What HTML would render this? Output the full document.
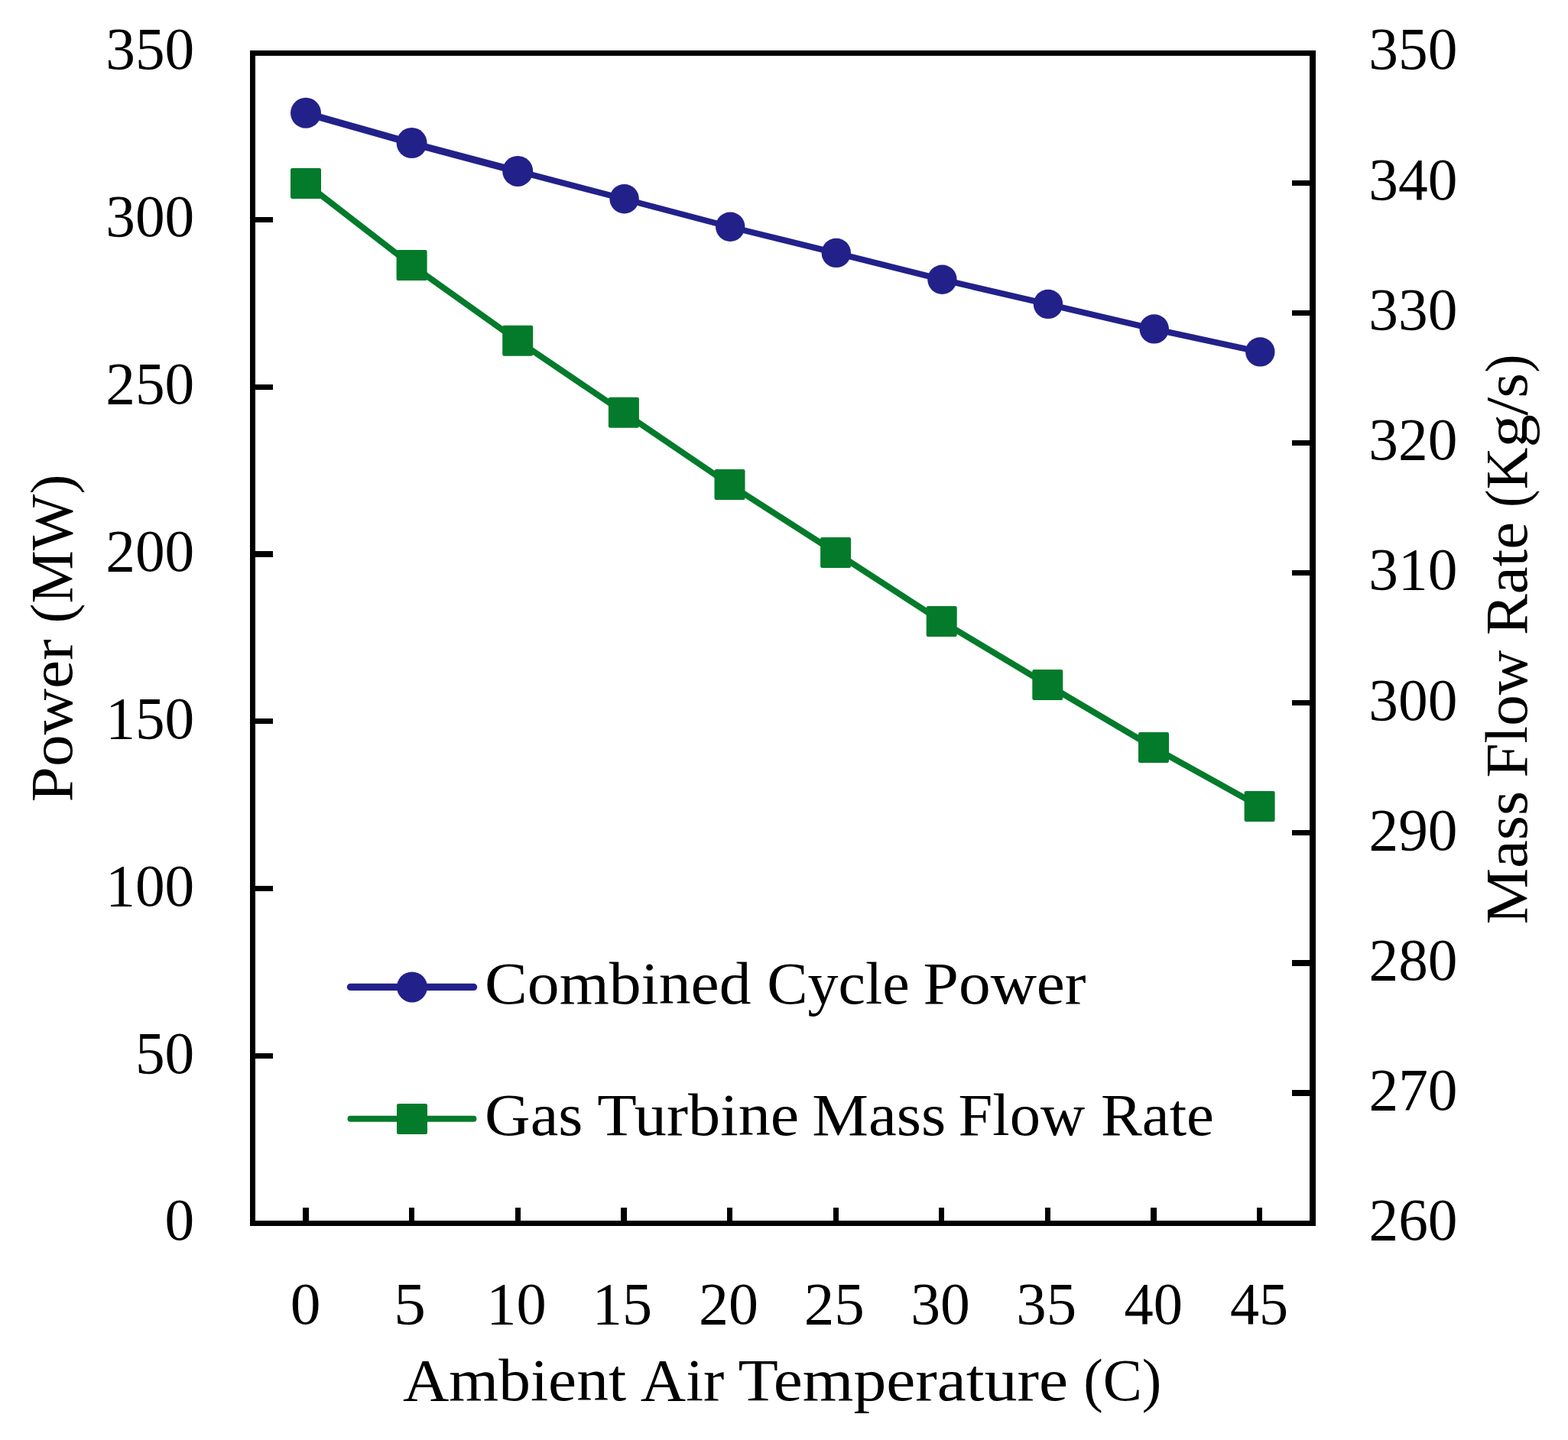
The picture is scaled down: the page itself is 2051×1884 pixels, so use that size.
<!DOCTYPE html>
<html lang="en">
<head>
<meta charset="utf-8">
<title>Combined Cycle Power and Gas Turbine Mass Flow Rate vs Ambient Air Temperature</title>
<style>
html,body{margin:0;padding:0;background:#fff;}
body{width:2051px;height:1884px;}
svg{display:block;}
</style>
</head>
<body>
<svg width="2051" height="1884" viewBox="0 0 2051 1884">
<rect width="2051" height="1884" fill="#fff"/>
<g id="series">
<polyline fill="none" stroke="#037b2b" stroke-width="8" stroke-linejoin="round" points="400.0,239.9 538.6,347.1 677.2,445.8 815.9,539.8 954.5,634.0 1093.1,722.9 1231.7,812.9 1370.3,896.0 1509.0,978.0 1647.6,1054.9"/>
<rect x="380.0" y="219.9" width="40" height="40" rx="2.2" fill="#037b2b"/>
<rect x="518.6" y="327.1" width="40" height="40" rx="2.2" fill="#037b2b"/>
<rect x="657.2" y="425.8" width="40" height="40" rx="2.2" fill="#037b2b"/>
<rect x="795.9" y="519.8" width="40" height="40" rx="2.2" fill="#037b2b"/>
<rect x="934.5" y="614.0" width="40" height="40" rx="2.2" fill="#037b2b"/>
<rect x="1073.1" y="702.9" width="40" height="40" rx="2.2" fill="#037b2b"/>
<rect x="1211.7" y="792.9" width="40" height="40" rx="2.2" fill="#037b2b"/>
<rect x="1350.3" y="876.0" width="40" height="40" rx="2.2" fill="#037b2b"/>
<rect x="1489.0" y="958.0" width="40" height="40" rx="2.2" fill="#037b2b"/>
<rect x="1627.6" y="1034.9" width="40" height="40" rx="2.2" fill="#037b2b"/>
<polyline fill="none" stroke="#22218a" stroke-width="7.9" stroke-linejoin="round" points="677.2,223.9 815.9,260.2 954.5,296.7 1093.1,330.9 1231.7,365.7 1370.3,397.9 1509.0,430.4 1647.6,460.4"/>
<polyline fill="none" stroke="#22218a" stroke-width="9.3" stroke-linejoin="round" points="400.0,148.1 538.6,187.4 677.2,224.2"/>
<circle cx="400.0" cy="147.8" r="20" fill="#22218a"/>
<circle cx="538.6" cy="187.1" r="20" fill="#22218a"/>
<circle cx="677.2" cy="223.9" r="20" fill="#22218a"/>
<circle cx="816.6" cy="260.2" r="19.2" fill="#22218a"/>
<circle cx="955.2" cy="296.7" r="19.2" fill="#22218a"/>
<circle cx="1093.8" cy="330.9" r="19.2" fill="#22218a"/>
<circle cx="1232.4" cy="365.7" r="19.2" fill="#22218a"/>
<circle cx="1371.0" cy="397.9" r="19.2" fill="#22218a"/>
<circle cx="1509.7" cy="430.4" r="19.2" fill="#22218a"/>
<circle cx="1648.3" cy="460.4" r="19.2" fill="#22218a"/>
</g>
<g id="axes" fill="#000" shape-rendering="crispEdges">
<rect x="326.85" y="66.00" width="7.3" height="1538.00"/>
<rect x="1713.35" y="66.00" width="7.3" height="1538.00"/>
<rect x="327.00" y="65.85" width="1394.00" height="7.3"/>
<rect x="327.00" y="1596.85" width="1394.00" height="7.3"/>
<rect x="334.00" y="283.85" width="23.00" height="7.3"/>
<rect x="334.00" y="502.60" width="23.00" height="7.3"/>
<rect x="334.00" y="721.35" width="23.00" height="7.3"/>
<rect x="334.00" y="940.10" width="23.00" height="7.3"/>
<rect x="334.00" y="1158.85" width="23.00" height="7.3"/>
<rect x="334.00" y="1377.60" width="23.00" height="7.3"/>
<rect x="1690.00" y="235.90" width="23.00" height="7.3"/>
<rect x="1690.00" y="405.95" width="23.00" height="7.3"/>
<rect x="1690.00" y="576.00" width="23.00" height="7.3"/>
<rect x="1690.00" y="746.05" width="23.00" height="7.3"/>
<rect x="1690.00" y="916.10" width="23.00" height="7.3"/>
<rect x="1690.00" y="1086.15" width="23.00" height="7.3"/>
<rect x="1690.00" y="1256.20" width="23.00" height="7.3"/>
<rect x="1690.00" y="1426.25" width="23.00" height="7.3"/>
<rect x="396.35" y="1580.00" width="7.3" height="17.00"/>
<rect x="534.98" y="1580.00" width="7.3" height="17.00"/>
<rect x="673.61" y="1580.00" width="7.3" height="17.00"/>
<rect x="812.24" y="1580.00" width="7.3" height="17.00"/>
<rect x="950.87" y="1580.00" width="7.3" height="17.00"/>
<rect x="1089.50" y="1580.00" width="7.3" height="17.00"/>
<rect x="1228.13" y="1580.00" width="7.3" height="17.00"/>
<rect x="1366.76" y="1580.00" width="7.3" height="17.00"/>
<rect x="1505.39" y="1580.00" width="7.3" height="17.00"/>
<rect x="1644.02" y="1580.00" width="7.3" height="17.00"/>
</g>
<g id="legend">
<line x1="458.5" y1="1291.4" x2="619.5" y2="1291.4" stroke="#22218a" stroke-width="9.4" stroke-linecap="round"/>
<circle cx="539" cy="1291.4" r="20" fill="#22218a"/>
<line x1="458.5" y1="1463.8" x2="619.5" y2="1463.8" stroke="#037b2b" stroke-width="7.9" stroke-linecap="round"/>
<rect x="519" y="1444" width="40" height="40" rx="2.2" fill="#037b2b"/>
</g>
<g id="labels" font-family="'Liberation Serif', serif" font-size="79.2" fill="#000">
<text y="1313.2"><tspan x="634.05" textLength="348.51" lengthAdjust="spacingAndGlyphs">Combined</tspan> <tspan x="1003.20" textLength="186.61" lengthAdjust="spacingAndGlyphs">Cycle</tspan> <tspan x="1207.60" textLength="213.05" lengthAdjust="spacingAndGlyphs">Power</tspan></text>
<text y="1485.2"><tspan x="634.10" textLength="128.21" lengthAdjust="spacingAndGlyphs">Gas</tspan> <tspan x="781.32" textLength="263.95" lengthAdjust="spacingAndGlyphs">Turbine</tspan> <tspan x="1062.31" textLength="174.90" lengthAdjust="spacingAndGlyphs">Mass</tspan> <tspan x="1253.59" textLength="165.51" lengthAdjust="spacingAndGlyphs">Flow</tspan> <tspan x="1439.98" textLength="147.95" lengthAdjust="spacingAndGlyphs">Rate</tspan></text>
<text y="1831.8"><tspan x="526.97" textLength="292.12" lengthAdjust="spacingAndGlyphs">Ambient</tspan> <tspan x="837.88" textLength="109.48" lengthAdjust="spacingAndGlyphs">Air</tspan> <tspan x="965.50" textLength="431.55" lengthAdjust="spacingAndGlyphs">Temperature</tspan> <tspan x="1417.15" textLength="102.14" lengthAdjust="spacingAndGlyphs">(C)</tspan></text>
<text transform="translate(93.9,0) rotate(-90)" y="0"><tspan x="-1049.50" textLength="213.25" lengthAdjust="spacingAndGlyphs">Power</tspan> <tspan x="-815.41" textLength="194.84" lengthAdjust="spacingAndGlyphs">(MW)</tspan></text>
<text transform="translate(1997.1,0) rotate(-90)" y="0"><tspan x="-1209.59" textLength="174.90" lengthAdjust="spacingAndGlyphs">Mass</tspan> <tspan x="-1017.53" textLength="166.84" lengthAdjust="spacingAndGlyphs">Flow</tspan> <tspan x="-831.13" textLength="148.16" lengthAdjust="spacingAndGlyphs">Rate</tspan> <tspan x="-663.84" textLength="23.25" lengthAdjust="spacingAndGlyphs">(</tspan><tspan x="-640.39" textLength="55.13" lengthAdjust="spacingAndGlyphs">K</tspan><tspan x="-585.49" textLength="43.43" lengthAdjust="spacingAndGlyphs">g</tspan><tspan x="-543.80" textLength="23.93" lengthAdjust="spacingAndGlyphs">/</tspan><tspan x="-520.68" textLength="32.88" lengthAdjust="spacingAndGlyphs">s</tspan><tspan x="-487.62" textLength="23.80" lengthAdjust="spacingAndGlyphs">)</tspan></text>
<text x="138.23" y="90.40" textLength="115.97" lengthAdjust="spacingAndGlyphs">350</text>
<text x="138.23" y="309.26" textLength="115.97" lengthAdjust="spacingAndGlyphs">300</text>
<text x="138.23" y="528.11" textLength="115.97" lengthAdjust="spacingAndGlyphs">250</text>
<text x="138.23" y="746.97" textLength="115.97" lengthAdjust="spacingAndGlyphs">200</text>
<text x="138.23" y="965.83" textLength="115.97" lengthAdjust="spacingAndGlyphs">150</text>
<text x="138.23" y="1184.69" textLength="115.97" lengthAdjust="spacingAndGlyphs">100</text>
<text x="176.88" y="1403.54" textLength="77.31" lengthAdjust="spacingAndGlyphs">50</text>
<text x="215.54" y="1622.40" textLength="38.66" lengthAdjust="spacingAndGlyphs">0</text>
<text x="1790.33" y="90.40" textLength="115.97" lengthAdjust="spacingAndGlyphs">350</text>
<text x="1790.33" y="260.62" textLength="115.97" lengthAdjust="spacingAndGlyphs">340</text>
<text x="1790.33" y="430.84" textLength="115.97" lengthAdjust="spacingAndGlyphs">330</text>
<text x="1790.33" y="601.07" textLength="115.97" lengthAdjust="spacingAndGlyphs">320</text>
<text x="1790.33" y="771.29" textLength="115.97" lengthAdjust="spacingAndGlyphs">310</text>
<text x="1790.33" y="941.51" textLength="115.97" lengthAdjust="spacingAndGlyphs">300</text>
<text x="1790.52" y="1111.73" textLength="115.97" lengthAdjust="spacingAndGlyphs">290</text>
<text x="1790.52" y="1281.96" textLength="115.97" lengthAdjust="spacingAndGlyphs">280</text>
<text x="1790.52" y="1452.18" textLength="115.97" lengthAdjust="spacingAndGlyphs">270</text>
<text x="1790.52" y="1622.40" textLength="115.97" lengthAdjust="spacingAndGlyphs">260</text>
<text x="379.72" y="1732.3" textLength="39.76" lengthAdjust="spacingAndGlyphs">0</text>
<text x="515.07" y="1732.3" textLength="41.99" lengthAdjust="spacingAndGlyphs">5</text>
<text x="636.34" y="1732.3" textLength="78.40" lengthAdjust="spacingAndGlyphs">10</text>
<text x="774.86" y="1732.3" textLength="78.17" lengthAdjust="spacingAndGlyphs">15</text>
<text x="914.09" y="1732.3" textLength="77.93" lengthAdjust="spacingAndGlyphs">20</text>
<text x="1051.74" y="1732.3" textLength="79.13" lengthAdjust="spacingAndGlyphs">25</text>
<text x="1191.31" y="1732.3" textLength="77.60" lengthAdjust="spacingAndGlyphs">30</text>
<text x="1329.25" y="1732.3" textLength="78.90" lengthAdjust="spacingAndGlyphs">35</text>
<text x="1470.57" y="1732.3" textLength="76.50" lengthAdjust="spacingAndGlyphs">40</text>
<text x="1608.98" y="1732.3" textLength="76.17" lengthAdjust="spacingAndGlyphs">45</text>
</g>
</svg>
</body>
</html>
